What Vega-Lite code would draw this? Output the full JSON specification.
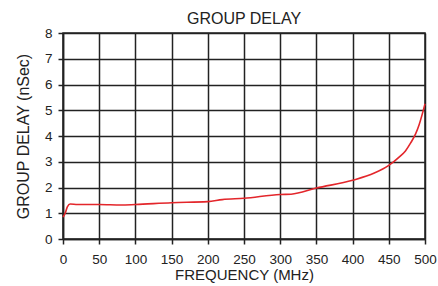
{
  "$schema": "https://vega.github.io/schema/vega-lite/v6.json",
  "width": 362,
  "height": 206,
  "autosize": {"type": "none"},
  "padding": {"left": 63, "top": 33, "right": 13, "bottom": 47},
  "background": "white",
  "title": {"text": "GROUP DELAY", "font": "Liberation Sans", "fontSize": 16, "fontWeight": "normal", "color": "#222", "offset": -1, "anchor": "middle"},
  "config": {
    "view": {"stroke": "#222", "strokeWidth": 1.5},
    "axis": {
      "labelFont": "Liberation Sans", "labelFontSize": 13.5, "labelColor": "#222",
      "titleFont": "Liberation Sans", "titleFontSize": 16, "titleFontWeight": "normal", "titleColor": "#222",
      "gridColor": "#222", "gridWidth": 1.5, "gridOpacity": 1,
      "domainColor": "#222", "domainWidth": 1.5,
      "tickColor": "#222", "tickWidth": 1.5, "tickSize": 5
    }
  },
  "data": {"values": [
    {"f": 0, "d": 0.85},
    {"f": 3, "d": 1.0},
    {"f": 6, "d": 1.25},
    {"f": 10, "d": 1.36},
    {"f": 20, "d": 1.34},
    {"f": 50, "d": 1.34},
    {"f": 80, "d": 1.32},
    {"f": 100, "d": 1.34},
    {"f": 150, "d": 1.41},
    {"f": 200, "d": 1.45},
    {"f": 220, "d": 1.53},
    {"f": 250, "d": 1.58},
    {"f": 300, "d": 1.73},
    {"f": 315, "d": 1.74},
    {"f": 350, "d": 1.98},
    {"f": 400, "d": 2.28},
    {"f": 430, "d": 2.56},
    {"f": 450, "d": 2.86},
    {"f": 465, "d": 3.2},
    {"f": 473, "d": 3.42},
    {"f": 480, "d": 3.72},
    {"f": 487, "d": 4.08},
    {"f": 492, "d": 4.45},
    {"f": 500, "d": 5.25}
  ]},
  "mark": {"type": "line", "color": "#e3262b", "strokeWidth": 1.6, "interpolate": "monotone"},
  "encoding": {
    "x": {"field": "f", "type": "quantitative", "title": "FREQUENCY (MHz)",
      "scale": {"domain": [0, 500], "nice": false},
      "axis": {"values": [0, 50, 100, 150, 200, 250, 300, 350, 400, 450, 500], "labelPadding": 8, "titlePadding": 2, "titleFontSize": 15, "labelFlush": false}},
    "y": {"field": "d", "type": "quantitative", "title": "GROUP DELAY (nSec)",
      "scale": {"domain": [0, 8], "nice": false},
      "axis": {"values": [0, 1, 2, 3, 4, 5, 6, 7, 8], "labelPadding": 6, "titlePadding": 13}}
  }
}
